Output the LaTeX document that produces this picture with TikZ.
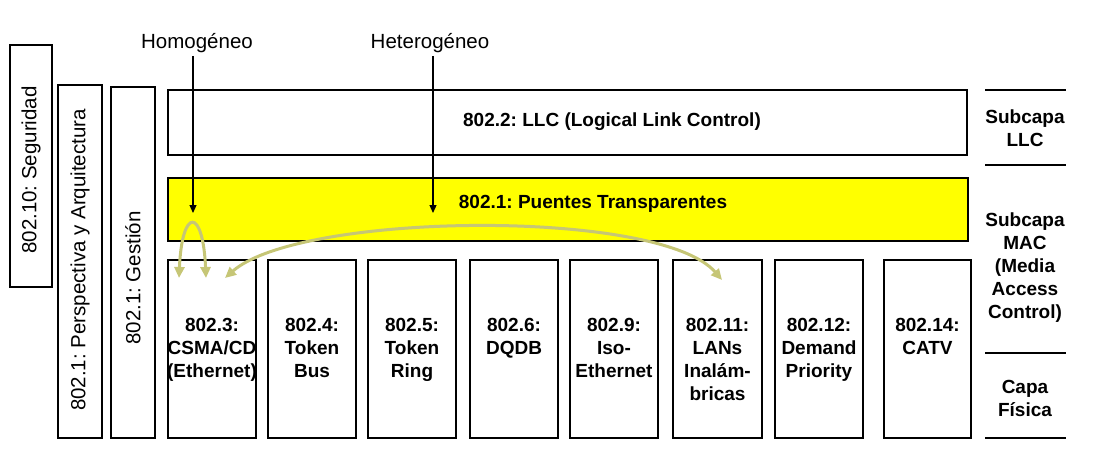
\documentclass[tikz,border=0pt]{standalone}
\usepackage{fontspec}
\setmainfont{Liberation Sans}
\usetikzlibrary{arrows.meta,positioning}
\definecolor{puenteyellow}{RGB}{255,255,0}
\definecolor{arcgreen}{RGB}{198,198,118}
\frenchspacing

\begin{document}
\begin{tikzpicture}[x=1pt, y=-1pt,
        box/.style={draw, line width=2.4pt, inner sep=0pt},
        boxtext/.style={font=\fontsize{19}{23}\selectfont\bfseries, align=center, inner sep=0pt},
        vtext/.style={font=\fontsize{20.5}{24}\selectfont, rotate=90, inner sep=0pt},
        lbl/.style={font=\fontsize{20.5}{24}\selectfont, inner sep=0pt},
        arr/.style={-{Triangle[length=8pt,width=7pt]}, line width=1.2pt},
        arcarr/.style={{Triangle[length=11pt,width=10pt]}-{Triangle[length=11pt,width=10pt]}, line width=3pt, arcgreen},
        sep/.style={line width=2pt}
      ]
        \useasboundingbox (0,0) rectangle (1109,474);
        % columns on the left
        \node[box, minimum width=42pt, minimum height=242pt] (segur) at (31,166) {};
        \node[box, minimum width=44pt, minimum height=353pt] (persp) at (80,261.5) {};
        \node[box, minimum width=44pt, minimum height=351pt] (gest) at (133,262.5) {};
        \node[vtext] (segurtxt) at (31,170) {802.10: Seguridad};
        \node[vtext] (persptxt) at (80,260) {802.1: Perspectiva y Arquitectura};
        \node[vtext] (gesttxt) at (133,278) {802.1: Gestión};
        % upper layers
        \node[box, minimum width=799pt, minimum height=65pt] (llc) at (567.5,122.5) {};
        \node[box, fill=puenteyellow, minimum width=800pt, minimum height=63pt] (puentes) at (568,209.5) {};
        \node[boxtext] (llctxt) at (612,122) {802.2: LLC (Logical Link Control)};
        \node[boxtext] (puentestxt) at (593,204) {802.1: Puentes Transparentes};
        % MAC / physical boxes
        \node[box, minimum width=88pt, minimum height=178pt] (ieee3) at (212,349) {};
        \node[box, minimum width=88pt, minimum height=178pt] (ieee4) at (312,349) {};
        \node[box, minimum width=88pt, minimum height=178pt] (ieee5) at (412,349) {};
        \node[box, minimum width=88pt, minimum height=178pt] (ieee6) at (514,349) {};
        \node[box, minimum width=88pt, minimum height=178pt] (ieee9) at (614,349) {};
        \node[box, minimum width=89pt, minimum height=178pt] (ieee11) at (717.5,349) {};
        \node[box, minimum width=88pt, minimum height=178pt] (ieee12) at (819,349) {};
        \node[box, minimum width=87pt, minimum height=178pt] (ieee14) at (927.5,349) {};
        \node[boxtext, below=59pt of ieee3.north] (ieee3txt) {802.3:\\CSMA/CD\\(Ethernet)};
        \node[boxtext, below=59pt of ieee4.north] (ieee4txt) {802.4:\\Token\\Bus};
        \node[boxtext, below=59pt of ieee5.north] (ieee5txt) {802.5:\\Token\\Ring};
        \node[boxtext, below=59pt of ieee6.north] (ieee6txt) {802.6:\\DQDB};
        \node[boxtext, below=59pt of ieee9.north] (ieee9txt) {802.9:\\Iso-\\Ethernet};
        \node[boxtext, below=59pt of ieee11.north] (ieee11txt) {802.11:\\LANs\\Inalám-\\bricas};
        \node[boxtext, below=59pt of ieee12.north] (ieee12txt) {802.12:\\Demand\\Priority};
        \node[boxtext, below=59pt of ieee14.north] (ieee14txt) {802.14:\\CATV};
        % layer names on the right
        \draw[sep] (985,90) -- (1066,90);
        \draw[sep, line width=2.5pt] (985,165) -- (1066,165);
        \draw[sep] (985,353) -- (1066,353);
        \draw[sep] (985,438) -- (1066,438);
        \node[boxtext] (subllc) at (1025,128) {Subcapa\\LLC};
        \node[boxtext] (submac) at (1025,268) {Subcapa\\MAC\\(Media\\Access\\Control)};
        \node[boxtext] (fisica) at (1025,398) {Capa\\Física};
        % bridging labels
        \node[lbl] (homo) at (197,43) {Homogéneo};
        \node[lbl] (hetero) at (430,43) {Heterogéneo};
        \coordinate (homotip) at (193,213);
        \coordinate (heterotip) at (433,213);
        \draw[arr] (homo.south -| homotip) ++(0,3) -- (homotip);
        \draw[arr] (hetero.south -| heterotip) ++(0,3) -- (heterotip);
        \coordinate (h1) at (179,278);
        \coordinate (h2) at (206,278);
        \coordinate (h3) at (225,278);
        \coordinate (h4) at (722,280);
        \draw[arcarr] (h1) .. controls (182,207) and (203,207) .. (h2);
        \draw[arcarr] (h3) .. controls (300,212) and (660,208) .. (h4);
      \end{tikzpicture}
\end{document}
